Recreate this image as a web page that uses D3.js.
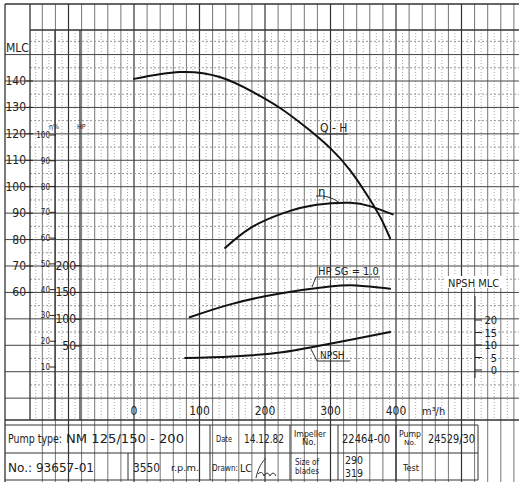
<!DOCTYPE html>
<html><head><meta charset="utf-8">
<script src="https://cdn.jsdelivr.net/npm/d3@7"></script>
<style>
body{margin:0;background:#fff;}
svg{display:block;}
text{font-family:"Liberation Sans Narrow","DejaVu Sans Condensed","Liberation Sans",sans-serif;fill:#222;}
</style></head>
<body>
<svg id="c" width="519" height="482"></svg>
<script>
// ---- data ----
const flowTicks = [0, 100, 200, 300, 400];
const headTicks = [140, 130, 120, 110, 100, 90, 80, 70, 60];
const effTicks = [100, 90, 80, 70, 60, 50, 40, 30, 20, 10];
const hpTicks = [200, 150, 100, 50];
const npshTicks = [20, 15, 10, 5, 0];

const qhFlow = [0, 70, 131, 182, 223, 264, 300, 330, 356, 376, 391];
const qhHead = [140.8, 143.4, 141.5, 135.8, 129.8, 122.2, 114.5, 106.2, 96.8, 88.5, 80.5];

const effFlow = [139, 177, 227, 279, 330, 360, 395];
const effVal = [56.2, 63.8, 69.6, 72.9, 73.7, 72.4, 69.2];

const hpFlow = [85, 147, 223, 299, 340, 391];
const hpVal = [103.7, 127.8, 148, 161, 163, 157];

const npshFlow = [78, 150, 223, 273, 325, 391];
const npshVal = [4.8, 5.4, 7.0, 9.2, 11.8, 15.2];

// ---- scales ----
const svg = d3.select("#c");
const x = d3.scaleLinear().domain([0, 400]).range([134, 396]);
const yH = d3.scaleLinear().domain([70, 140]).range([266, 81]);
const yE = d3.scaleLinear().domain([10, 100]).range([367, 135]);
const yP = d3.scaleLinear().domain([50, 200]).range([346, 265.7]);
const yN = d3.scaleLinear().domain([0, 20]).range([370, 320]);

// ---- graph paper grid ----
const g = svg.append("g");
const gx0 = 30, gx1 = 519, gy0 = 30, gy1 = 420;
for (let q = -160; q <= 590; q += 10) {
  const px = x(q);
  if (px < gx0 - 0.5 || px > gx1) continue;
  const major = q % 100 === 0, mid = q % 20 === 0;
  g.append("line").attr("x1", px).attr("x2", px)
    .attr("y1", mid ? 4 : gy0).attr("y2", mid ? 482 : gy1)
    .attr("stroke", major ? "#333" : mid ? "#777" : "#aaa")
    .attr("stroke-width", major ? 1.2 : 1)
    .attr("stroke-dasharray", mid ? null : "1,2");
}
for (let h = 20; h <= 160; h += 5) {
  const py = yH(h);
  if (py < gy0 - 0.5 || py > gy1) continue;
  const major = h % 10 === 0;
  g.append("line").attr("x1", major ? 5 : gx0).attr("x2", gx1)
    .attr("y1", py).attr("y2", py)
    .attr("stroke", major ? "#444" : "#999")
    .attr("stroke-width", 1)
    .attr("stroke-dasharray", major ? null : "2,2");
}
[[5, 4, 519, 4], [5, 4, 5, 482], [gx0, gy0, gx1, gy0], [gx0, 4, gx0, gy1], [55, gy0, 55, gy1], [80, gy0, 80, gy1], [5, gy1, 519, gy1]]
  .forEach(l => g.append("line").attr("x1", l[0]).attr("y1", l[1]).attr("x2", l[2]).attr("y2", l[3])
    .attr("stroke", "#333").attr("stroke-width", 1.3));

// ---- axes ----
const axH = svg.append("g");
axH.append("text").attr("x", 6).attr("y", 52).attr("font-size", 12).text("MLC");
headTicks.forEach(t => {
  axH.append("text").attr("x", 26).attr("y", yH(t) + 4).attr("text-anchor", "end").attr("font-size", 12).text(t);
  axH.append("line").attr("x1", 26).attr("x2", 33).attr("y1", yH(t)).attr("y2", yH(t)).attr("stroke", "#222");
});
const axE = svg.append("g");
axE.append("text").attr("x", 49).attr("y", 129).attr("font-size", 7).text("η%");
effTicks.forEach(t => {
  axE.append("text").attr("x", 50).attr("y", yE(t) + 3).attr("text-anchor", "end").attr("font-size", 8).text(t);
  axE.append("line").attr("x1", 50).attr("x2", 56).attr("y1", yE(t)).attr("y2", yE(t)).attr("stroke", "#222");
});
const axP = svg.append("g");
axP.append("text").attr("x", 77).attr("y", 129).attr("font-size", 7).text("HP");
hpTicks.forEach(t => {
  axP.append("text").attr("x", 76).attr("y", yP(t) + 4).attr("text-anchor", "end").attr("font-size", 12).text(t);
  axP.append("line").attr("x1", 75).attr("x2", 81).attr("y1", yP(t)).attr("y2", yP(t)).attr("stroke", "#222");
});
const axQ = svg.append("g");
flowTicks.forEach(t => {
  axQ.append("text").attr("x", x(t)).attr("y", 415).attr("text-anchor", "middle").attr("font-size", 12).text(t);
});
axQ.append("text").attr("x", 422).attr("y", 415).attr("font-size", 11).text("m³/h");

const axN = svg.append("g");
axN.append("rect").attr("x", 446).attr("y", 276).attr("width", 58).attr("height", 12).attr("fill", "#fff");
axN.append("text").attr("x", 448).attr("y", 287).attr("font-size", 11).text("NPSH MLC");
axN.append("line").attr("x1", 475).attr("x2", 475).attr("y1", 296).attr("y2", 378).attr("stroke", "#222");
npshTicks.forEach(t => {
  axN.append("text").attr("x", 497).attr("y", yN(t) + 4).attr("text-anchor", "end").attr("font-size", 11).text(t);
  axN.append("line").attr("x1", 475).attr("x2", 482).attr("y1", yN(t)).attr("y2", yN(t)).attr("stroke", "#222");
});

// ---- curves ----
const curve = d3.curveNatural;
function draw(fl, vals, ys) {
  const pts = fl.map((f, i) => [x(f), ys(vals[i])]);
  svg.append("path").attr("d", d3.line().curve(curve)(pts))
    .attr("fill", "none").attr("stroke", "#111").attr("stroke-width", 2).attr("stroke-linecap", "round");
}
draw(qhFlow, qhHead, yH);
draw(effFlow, effVal, yE);
draw(hpFlow, hpVal, yP);
draw(npshFlow, npshVal, yN);

// curve labels
const lab = svg.append("g");
lab.append("text").attr("x", 320).attr("y", 132).attr("font-size", 12).text("Q - H");
lab.append("line").attr("x1", 318).attr("x2", 348).attr("y1", 134).attr("y2", 134).attr("stroke", "#333");
lab.append("text").attr("x", 318).attr("y", 196).attr("font-size", 13).text("η");
lab.append("path").attr("d", "M316,196 Q330,195 340,203").attr("fill", "none").attr("stroke", "#333");
lab.append("text").attr("x", 318).attr("y", 275).attr("font-size", 11).text("HP  SG = 1.0");
lab.append("path").attr("d", "M380,277 L316,277 L312,287").attr("fill", "none").attr("stroke", "#333");
lab.append("text").attr("x", 320).attr("y", 359).attr("font-size", 10).text("NPSH");
lab.append("path").attr("d", "M350,361 L317,361 L311,349").attr("fill", "none").attr("stroke", "#333");

// ---- title block ----
const tb = svg.append("g");
[[5, 425, 478, 425], [5, 453, 478, 453], [5, 480, 478, 480], [478, 425, 478, 480],
 [128, 453, 128, 480], [210, 425, 210, 480], [290, 425, 290, 480], [338, 425, 338, 480], [396, 425, 396, 480]]
  .forEach(l => tb.append("line").attr("x1", l[0]).attr("y1", l[1]).attr("x2", l[2]).attr("y2", l[3])
    .attr("stroke", "#333").attr("stroke-width", 1));
const T = (tx, ty, s, fs, w) => {
  const t = tb.append("text").attr("x", tx).attr("y", ty).attr("font-size", fs).text(s);
  if (w) t.attr("textLength", w).attr("lengthAdjust", "spacingAndGlyphs");
  return t;
};
T(8, 443, "Pump type:", 12, 54);
T(66, 443, "NM 125/150  -  200", 12, 118);
T(216, 442, "Date", 8, 16);
T(244, 443, "14.12.82", 12, 40);
T(294, 437, "Impeller", 8, 32);
T(302, 445, "No.", 8, 14);
T(342, 443, "22464-00", 12, 48);
T(399, 437, "Pump", 8, 22);
T(404, 445, "No.", 7, 12);
T(428, 443, "24529/30", 12, 47);
T(8, 472, "No.: 93657-01", 12, 86);
T(133, 472, "3550", 12, 27);
T(171, 471, "r.p.m.", 9, 28);
T(212, 471, "Drawn:", 8, 26);
T(240, 472, "LC", 11, 12);
tb.append("path").attr("d", "M256,478 C258,468 262,462 266,458 M258,474 Q262,470 264,476 Q267,470 270,476 Q273,470 276,476")
  .attr("fill", "none").attr("stroke", "#333").attr("stroke-width", 1);
T(295, 465, "Size of", 8, 24);
T(295, 474, "blades", 8, 24);
T(345, 464, "290", 11, 18);
T(345, 477, "319", 11, 18);
T(403, 471, "Test", 8, 16);
</script>
</body></html>
